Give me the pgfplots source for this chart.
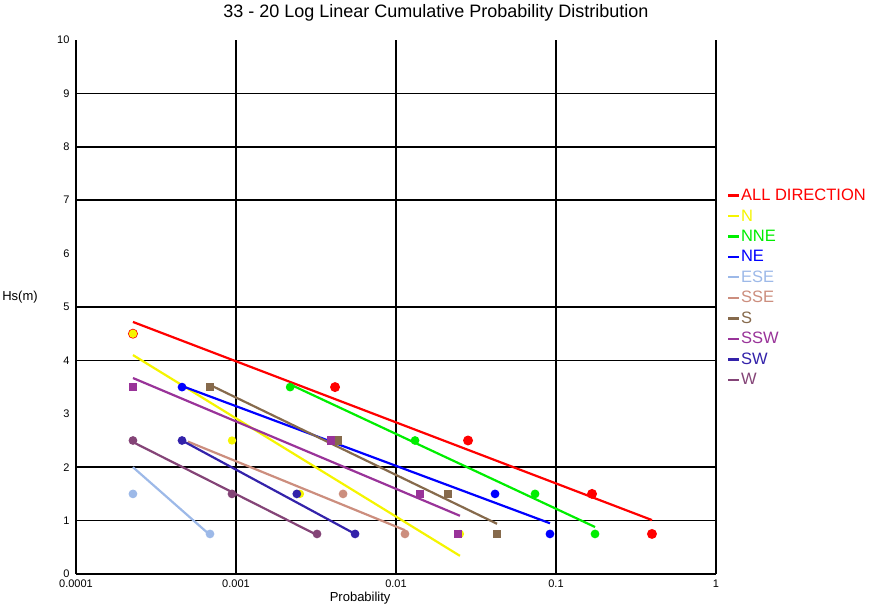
\documentclass[border=0pt]{standalone}
\usepackage{pgfplots}
\pgfplotsset{compat=1.18}
\usepackage{fontspec}
\setmainfont{Liberation Sans}
\definecolor{cAll}{HTML}{FF0000}
\definecolor{cN}{HTML}{F5F500}
\definecolor{cNNE}{HTML}{00EE00}
\definecolor{cNE}{HTML}{0000FF}
\definecolor{cESE}{HTML}{9DB9E8}
\definecolor{cSSE}{HTML}{CC8E7E}
\definecolor{cS}{HTML}{866A4C}
\definecolor{cSSW}{HTML}{993399}
\definecolor{cSW}{HTML}{3322AA}
\definecolor{cW}{HTML}{844477}
\begin{document}
\begin{tikzpicture}
\useasboundingbox (-76pt,-35pt) rectangle (801pt,574pt);
\begin{axis}[
  scale only axis, width=640pt, height=534pt,
  xmode=log, xmin=1e-4, xmax=1, ymin=0, ymax=10,
  axis x line*=bottom, axis y line*=left,
  axis line style={black, line width=1.7pt},
  xtick={1e-4,1e-3,1e-2,1e-1,1}, xticklabels={0.0001,0.001,0.01,0.1,1},
  xminorticks=false,
  ytick={0,1,...,10},
  major tick length=0pt,
  xmajorgrids,
  grid style={black, line width=1.6pt},
  extra y ticks={1,2,4,5,7,8,9}, extra y tick labels={},
  extra y tick style={grid=major},
  /pgf/number format/assume math mode=true,
  tick label style={font=\fontsize{11}{13}\selectfont},
  xticklabel style={yshift=-2pt},
  yticklabel style={xshift=-3pt},
  title={33 - 20 Log Linear Cumulative Probability Distribution},
  title style={at={(axis description cs:0.5625,1)}, anchor=base, yshift=16pt, font=\fontsize{18}{21}\selectfont},
  xlabel={Probability},
  xlabel style={at={(axis description cs:0.444,-0.045)}, anchor=center, font=\fontsize{13}{15}\selectfont},
  ylabel={Hs(m)},
  ylabel style={rotate=-90, at={(axis description cs:-0.0875,0.519)}, anchor=center, font=\fontsize{13}{15}\selectfont},
  legend style={at={(axis description cs:1.017,0.722)}, anchor=north west, draw=none, fill=none,
    font=\fontsize{16.5}{19}\selectfont, row sep=6.5pt, inner sep=0pt,
    nodes={inner sep=0.5pt}},
  legend cell align=left,
  legend image code/.code={\draw[#1, mark=none, line width=2.5pt] (0pt,0pt) -- (11pt,0pt);},
  every axis plot/.append style={line width=2.2pt},
]
% fitted lines
\addplot[cAll] coordinates {(2.27e-4,4.72) (0.398,1.01)};
\addlegendentry{\textcolor{cAll}{ALL DIRECTION}}
\addplot[cN] coordinates {(2.27e-4,4.10) (0.0251,0.34)};
\addlegendentry{\textcolor{cN}{N}}
\addplot[cNNE] coordinates {(2.18e-3,3.55) (0.1754,0.88)};
\addlegendentry{\textcolor{cNNE}{NNE}}
\addplot[cNE] coordinates {(4.6e-4,3.52) (0.0917,0.95)};
\addlegendentry{\textcolor{cNE}{NE}}
\addplot[cESE] coordinates {(2.27e-4,2.0) (6.88e-4,0.73)};
\addlegendentry{\textcolor{cESE}{ESE}}
\addplot[cSSE] coordinates {(5.0e-4,2.48) (0.01138,0.82)};
\addlegendentry{\textcolor{cSSE}{SSE}}
\addplot[cS] coordinates {(6.88e-4,3.54) (0.0428,0.94)};
\addlegendentry{\textcolor{cS}{S}}
\addplot[cSSW] coordinates {(2.27e-4,3.67) (0.0251,1.09)};
\addlegendentry{\textcolor{cSSW}{SSW}}
\addplot[cSW] coordinates {(4.6e-4,2.5) (5.55e-3,0.75)};
\addlegendentry{\textcolor{cSW}{SW}}
\addplot[cW] coordinates {(2.27e-4,2.47) (3.21e-3,0.73)};
\addlegendentry{\textcolor{cW}{W}}
% data markers
\addplot[forget plot, only marks, mark=*, mark size=3.8pt, color=cAll] coordinates {(2.27e-4,4.5) (4.16e-3,3.5) (0.0282,2.5) (0.168,1.5) (0.398,0.75)};
\addplot[forget plot, only marks, mark=*, mark size=3pt, color=cN] coordinates {(2.27e-4,4.5) (9.44e-4,2.5) (2.51e-3,1.5) (0.0251,0.75)};
\addplot[forget plot, only marks, mark=*, mark size=3.2pt, color=cNNE] coordinates {(2.18e-3,3.5) (0.01315,2.5) (0.074,1.5) (0.1754,0.75)};
\addplot[forget plot, only marks, mark=*, mark size=3.2pt, color=cNE] coordinates {(4.6e-4,3.5) (0.0416,1.5) (0.0917,0.75)};
\addplot[forget plot, only marks, mark=*, mark size=3.2pt, color=cESE] coordinates {(2.27e-4,1.5) (6.88e-4,0.75)};
\addplot[forget plot, only marks, mark=*, mark size=3.2pt, color=cSSE] coordinates {(4.67e-3,1.5) (0.01138,0.75)};
\addplot[forget plot, only marks, mark=square*, mark size=3pt, color=cS] coordinates {(6.88e-4,3.5) (4.34e-3,2.5) (0.02113,1.5) (0.0428,0.75)};
\addplot[forget plot, only marks, mark=square*, mark size=3pt, color=cSSW] coordinates {(2.27e-4,3.5) (3.93e-3,2.5) (0.01413,1.5) (0.0244,0.75)};
\addplot[forget plot, only marks, mark=*, mark size=3.2pt, color=cSW] coordinates {(4.6e-4,2.5) (2.40e-3,1.5) (5.55e-3,0.75)};
\addplot[forget plot, only marks, mark=*, mark size=3.2pt, color=cW] coordinates {(2.27e-4,2.5) (9.44e-4,1.5) (3.21e-3,0.75)};
\end{axis}
\end{tikzpicture}
\end{document}
